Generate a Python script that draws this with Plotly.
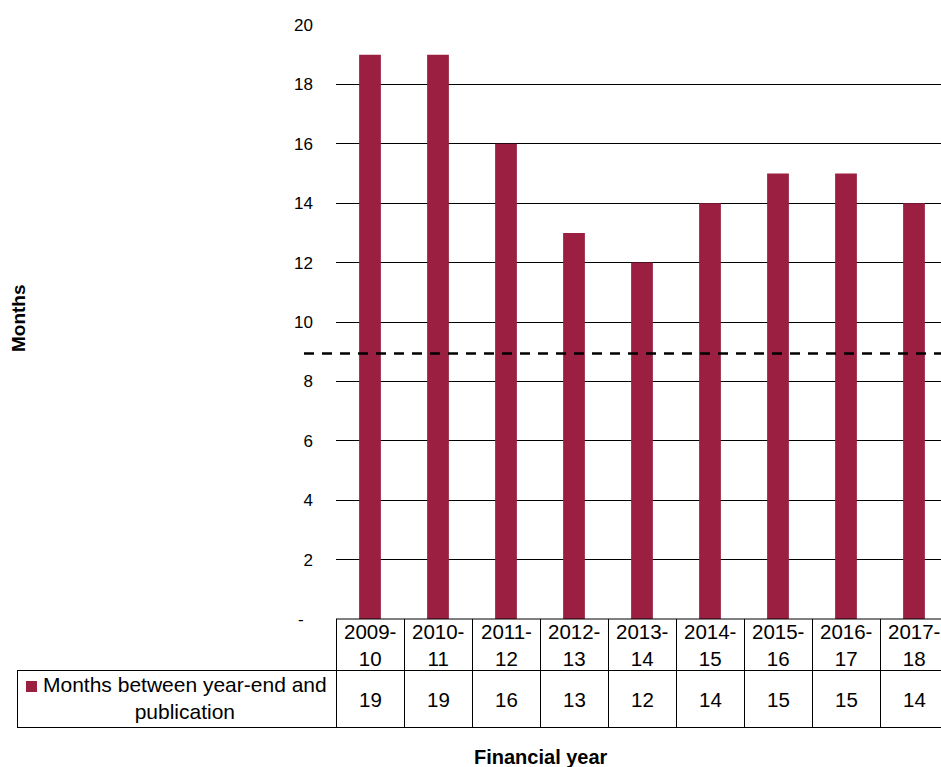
import plotly.graph_objects as go

# ---- data ----
years = ["2009-10", "2010-11", "2011-12", "2012-13", "2013-14", "2014-15", "2015-16", "2016-17", "2017-18"]
months = [19, 19, 16, 13, 12, 14, 15, 15, 14]
series_name = "Months between year-end and publication"
target_months = 8.94
ytick_vals = [0, 2, 4, 6, 8, 10, 12, 14, 16, 18, 20]
ytick_text = ["-\u00a0\u00a0", "2", "4", "6", "8", "10", "12", "14", "16", "18", "20"]

# ---- layout geometry (page pixels) ----
W, H = 941, 767
L, R, T, B = 336, 941, 25, 619
CAT_W = 68.0
FONT = "Liberation Sans, Arial, sans-serif"
BAR_COLOR = "#9B1F40"

def px_x(p):
    return (p - L) / (R - L)

def px_y(p):
    return (B - p) / (B - T)

xmax = -0.5 + (R - L) / CAT_W
x_idx = list(range(len(years)))

fig = go.Figure()
fig.add_trace(go.Bar(
    x=x_idx, y=months, name=series_name, width=0.32,
    marker=dict(color=BAR_COLOR, line=dict(width=0)),
    showlegend=False, hoverinfo="skip",
))

shapes = []
shapes.append(dict(type="line", xref="paper", yref="y", x0=px_x(304), x1=1.02,
                   y0=target_months, y1=target_months,
                   line=dict(color="black", width=2.5, dash="10px,8px"), layer="above"))

row1_top, row1_bot, row2_bot = 619, 670.5, 727.5
line_style = dict(color="black", width=1)
shapes.append(dict(type="line", xref="paper", yref="paper", x0=px_x(336), x1=1.02,
                   y0=px_y(row1_top), y1=px_y(row1_top), line=line_style, layer="above"))
shapes.append(dict(type="line", xref="paper", yref="paper", x0=px_x(17), x1=1.02,
                   y0=px_y(row1_bot), y1=px_y(row1_bot), line=line_style, layer="above"))
shapes.append(dict(type="line", xref="paper", yref="paper", x0=px_x(17), x1=1.02,
                   y0=px_y(row2_bot), y1=px_y(row2_bot), line=line_style, layer="above"))
shapes.append(dict(type="line", xref="paper", yref="paper", x0=px_x(17.5), x1=px_x(17.5),
                   y0=px_y(row1_bot), y1=px_y(row2_bot), line=line_style, layer="above"))
shapes.append(dict(type="line", xref="paper", yref="paper", x0=px_x(336.5), x1=px_x(336.5),
                   y0=px_y(row1_top), y1=px_y(row2_bot), line=line_style, layer="above"))
for i in range(1, len(years) + 1):
    xb = px_x(L + 0.5 + i * CAT_W)
    if xb <= 1.0:
        shapes.append(dict(type="line", xref="paper", yref="paper", x0=xb, x1=xb,
                           y0=px_y(row1_top), y1=px_y(row2_bot), line=line_style, layer="above"))
shapes.append(dict(type="rect", xref="paper", yref="paper", x0=px_x(26), x1=px_x(37),
                   y0=px_y(692), y1=px_y(681), fillcolor=BAR_COLOR, line=dict(width=0)))

annotations = []
for i, (yr, v) in enumerate(zip(years, months)):
    a, b = yr.split("-")
    annotations.append(dict(x=i, xref="x", y=px_y(645), yref="paper", text=f"{a}-<br>{b}",
                            showarrow=False, xanchor="center", yanchor="middle",
                            font=dict(family=FONT, size=20.5, color="black")))
    annotations.append(dict(x=i, xref="x", y=px_y(699), yref="paper", text=str(v),
                            showarrow=False, xanchor="center", yanchor="middle",
                            font=dict(family=FONT, size=20.5, color="black")))
annotations.append(dict(x=px_x(185), xref="paper", y=px_y(698), yref="paper",
                        text="Months between year-end and<br>publication", align="center",
                        showarrow=False, xanchor="center", yanchor="middle",
                        font=dict(family=FONT, size=21, color="black")))
annotations.append(dict(x=px_x(541), xref="paper", y=px_y(757), yref="paper",
                        text="<b>Financial year</b>", showarrow=False,
                        xanchor="center", yanchor="middle",
                        font=dict(family=FONT, size=20, color="black")))
annotations.append(dict(x=px_x(18), xref="paper", y=px_y(318), yref="paper",
                        text="<b>Months</b>", textangle=-90, showarrow=False,
                        xanchor="center", yanchor="middle",
                        font=dict(family=FONT, size=19, color="black")))

fig.update_layout(
    width=W, height=H,
    margin=dict(l=L, r=W - R, t=T, b=H - B, pad=0),
    paper_bgcolor="white", plot_bgcolor="white",
    font=dict(family=FONT, color="black"),
    xaxis=dict(range=[-0.5, xmax], showticklabels=False, showgrid=False, zeroline=False,
               showline=False, ticks="", fixedrange=True),
    yaxis=dict(range=[0, 20], tickvals=ytick_vals, ticktext=ytick_text,
               showgrid=True, gridcolor="black", gridwidth=1, zeroline=False,
               showline=False, ticks="", ticklabelstandoff=22,
               tickfont=dict(family=FONT, size=17, color="black"), fixedrange=True),
    shapes=shapes, annotations=annotations,
)

fig.write_html(
    "out.html",
    config={"displayModeBar": False},
    post_script="document.body.style.margin='0';document.documentElement.style.overflow='hidden';",
)
